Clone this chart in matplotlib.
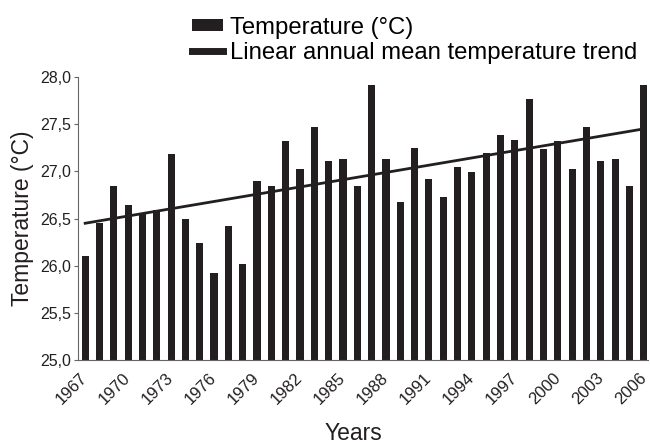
import numpy as np
import matplotlib.pyplot as plt
from matplotlib.ticker import FuncFormatter

plt.rcParams['font.family'] = ['Liberation Sans', 'DejaVu Sans']

years = list(range(1967, 2007))
temperature = [
    26.10, 26.45, 26.85, 26.64, 26.56, 26.59, 27.18, 26.49, 26.24, 25.92,
    26.42, 26.02, 26.90, 26.85, 27.32, 27.03, 27.47, 27.11, 27.13, 26.85,
    27.91, 27.13, 26.68, 27.25, 26.92, 26.73, 27.05, 26.99, 27.19, 27.38,
    27.33, 27.77, 27.24, 27.32, 27.03, 27.47, 27.11, 27.13, 26.85, 27.91,
]
trend_years = [1967, 2006]
trend_values = [26.45, 27.45]
tick_years = list(range(1967, 2007, 3))

dark = '#231f20'
grey = '#666666'

fig = plt.figure(figsize=(6.5, 4.44), dpi=100)
ax = fig.add_axes([0.12, 0.189, 0.877, 0.6376])

ax.bar(years, temperature, width=0.5, color=dark,
       label='Temperature (°C)')
ax.plot(trend_years, trend_values, color=dark, lw=2,
        label='Linear annual mean temperature trend')

ax.set_ylim(25.0, 28.0)
ax.set_xlim(1966.5, 2006.3)
ax.set_yticks(np.arange(25.0, 28.01, 0.5))
ax.yaxis.set_major_formatter(FuncFormatter(lambda v, p: f'{v:.1f}'.replace('.', ',')))
ax.set_xticks(tick_years)
ax.set_xticklabels([str(y) for y in tick_years], rotation=45,
                   ha='right', va='center', rotation_mode='anchor')

for s in ['top', 'right']:
    ax.spines[s].set_visible(False)
for s in ['left', 'bottom']:
    ax.spines[s].set_color(grey)
    ax.spines[s].set_linewidth(0.8)

ax.tick_params(axis='y', length=3, width=0.8, colors=grey,
               labelcolor=dark, labelsize=11.5, pad=2)
ax.tick_params(axis='x', length=0, labelcolor=dark, labelsize=12, pad=11)

ax.set_ylabel('Temperature (°C)', fontsize=16.5, color=dark, labelpad=4)
ax.set_xlabel('Years', fontsize=16.5, color=dark, labelpad=2)
ax.xaxis.set_label_coords(0.483, -0.22)

handles, labels = ax.get_legend_handles_labels()
leg = fig.legend(handles[::-1], labels[::-1], loc='upper left',
                 bbox_to_anchor=(0.27, 1.0), frameon=False, fontsize=17.2,
                 handlelength=1.3, handleheight=0.42, labelspacing=0.12,
                 handletextpad=0.3, borderaxespad=0.3)
leg.legend_handles[1].set_linewidth(5)

fig.savefig('out.png', dpi=100)
